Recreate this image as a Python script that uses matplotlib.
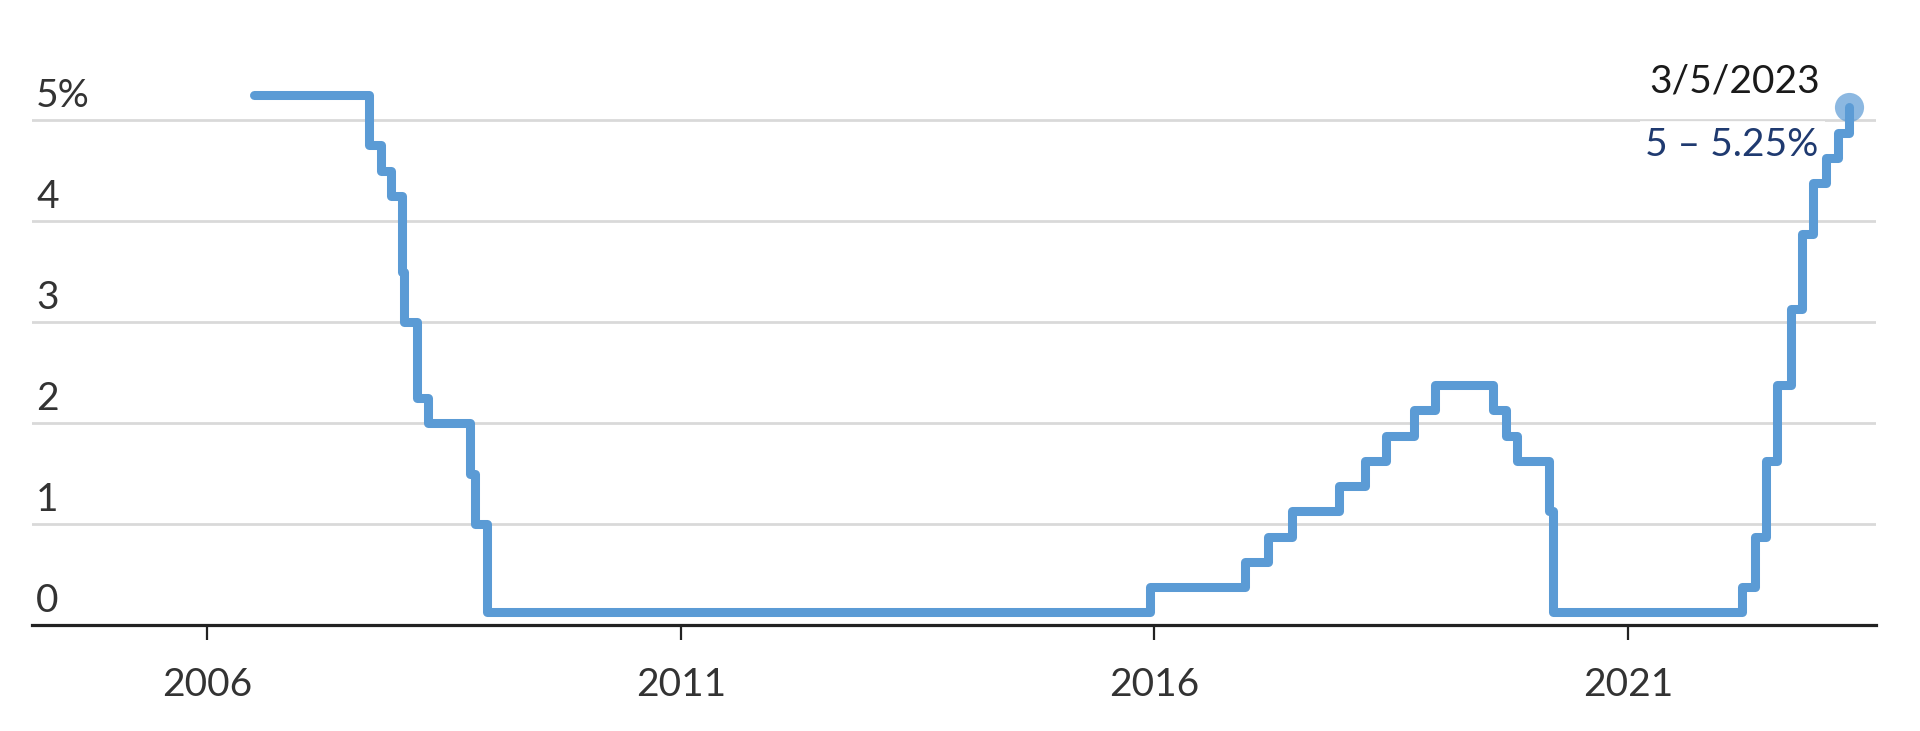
import matplotlib
matplotlib.use('Agg')
import matplotlib.pyplot as plt
import matplotlib.dates as mdates
from matplotlib.transforms import ScaledTranslation
import pandas as pd

# Federal funds target rate (midpoint of the range after Dec 2008)
dates = ['2006-06-29', '2007-09-18', '2007-10-31', '2007-12-11', '2008-01-22',
         '2008-01-30', '2008-03-18', '2008-04-30', '2008-10-08', '2008-10-29',
         '2008-12-16', '2015-12-16', '2016-12-14', '2017-03-15', '2017-06-14',
         '2017-12-13', '2018-03-21', '2018-06-13', '2018-09-26', '2018-12-19',
         '2019-07-31', '2019-09-18', '2019-10-30', '2020-03-03', '2020-03-15',
         '2022-03-16', '2022-05-04', '2022-06-15', '2022-07-27', '2022-09-21',
         '2022-11-02', '2022-12-14', '2023-02-01', '2023-03-22', '2023-05-03']
rates = [5.25, 4.75, 4.50, 4.25, 3.50,
         3.00, 2.25, 2.00, 1.50, 1.00,
         0.125, 0.375, 0.625, 0.875, 1.125,
         1.375, 1.625, 1.875, 2.125, 2.375,
         2.125, 1.875, 1.625, 1.125, 0.125,
         0.375, 0.875, 1.625, 2.375, 3.125,
         3.875, 4.375, 4.625, 4.875, 5.125]

year_ticks = ['2006', '2011', '2016', '2021']
y_ticks = [0, 1, 2, 3, 4, 5]
y_labels = ['0', '1', '2', '3', '4', '5%']
last_date_label = '3/5/2023'
last_rate_label = '5 – 5.25%'

df = pd.DataFrame({'date': pd.to_datetime(dates), 'rate': rates})

plt.rcParams['font.family'] = ['Lato', 'DejaVu Sans']
blue = '#5B9BD5'
text_col = '#333333'
fs = 28

fig = plt.figure(figsize=(19.2, 7.31), dpi=100)
ax = fig.add_axes([32 / 1920, 106 / 731, 1844 / 1920, 606 / 731])

ax.step(df['date'], df['rate'], where='post', color=blue, linewidth=6.5,
        solid_joinstyle='round', solid_capstyle='round', zorder=3)

last = df.iloc[-1]
ax.plot(last['date'], last['rate'], 'o', markersize=21, color=blue,
        alpha=0.7, markeredgewidth=0, zorder=4)
ax.annotate(last_date_label, (last['date'], last['rate']), xytext=(-21.5, 18.5),
            textcoords='offset points', ha='right', va='center',
            fontsize=fs, color='#1a1a1a', zorder=5)
ax.annotate(last_rate_label, (last['date'], last['rate']), xytext=(-22, -27),
            textcoords='offset points', ha='right', va='center',
            fontsize=fs, color='#1F3A70', zorder=2.5,
            bbox=dict(boxstyle='square,pad=0.15', fc='white', ec='none', alpha=0.85))

ax.set_xlim(pd.Timestamp('2004-02-25'), pd.Timestamp('2023-08-14'))
ax.set_ylim(0, 6)

ax.set_xticks(pd.to_datetime([y + '-01-01' for y in year_ticks]))
ax.xaxis.set_major_formatter(mdates.DateFormatter('%Y'))
ax.tick_params(axis='x', length=11, width=1.6, color='#222222', pad=19.5,
               labelsize=fs, labelcolor=text_col)

ax.set_yticks(y_ticks)
ax.set_yticklabels(y_labels)
ax.tick_params(axis='y', length=0, pad=-3, labelsize=fs, labelcolor=text_col)
offset = ScaledTranslation(0, 13 / 100, fig.dpi_scale_trans)
for lbl in ax.get_yticklabels():
    lbl.set_horizontalalignment('left')
    lbl.set_verticalalignment('baseline')
    lbl.set_transform(lbl.get_transform() + offset)

for v in y_ticks[1:]:
    ax.axhline(v, color='#d9d9d9', linewidth=2, zorder=1)

for side in ['top', 'right', 'left']:
    ax.spines[side].set_visible(False)
ax.spines['bottom'].set_color('#222222')
ax.spines['bottom'].set_linewidth(2.3)
ax.spines['bottom'].set_zorder(2)

fig.savefig('out.png', dpi=100)
